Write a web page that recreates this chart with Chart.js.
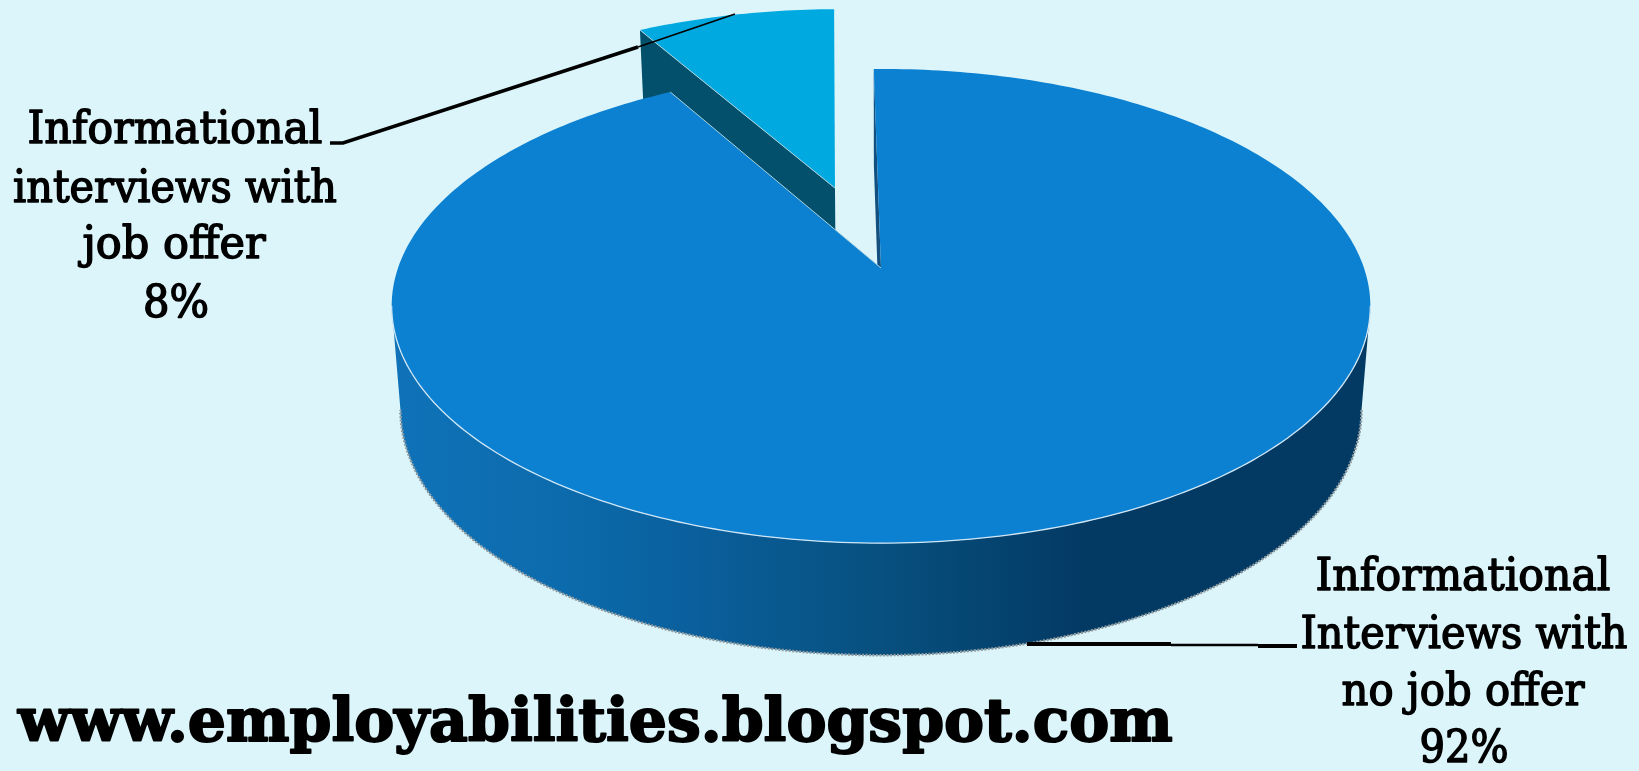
<!DOCTYPE html>
<html>
<head>
<meta charset="utf-8">
<title>Informational interviews</title>
<script src="https://cdn.jsdelivr.net/npm/chart.js@4"></script>
<style>
  html, body { margin: 0; padding: 0; background: #dbf5fa; overflow: hidden; }
  canvas { display: block; }
</style>
</head>
<body>
<canvas id="myChart" width="1639" height="771"></canvas>
<script>
// Chart values
const categories = ['Informational Interviews with no job offer', 'Informational interviews with job offer'];
const shares = [92, 8];
const sliceColors = ['#0c80d1', '#00a9e0'];
const siteUrl = 'www.employabilities.blogspot.com';

// Perspective used to tip the flat pie over and give it some depth
const view = { cx: 881, cy: 268, rx: 483, ry: 231, tilt: 0.1604, shrinkX: 0.982, shrinkY: 1.034, depth: 102.7, explode: [0, 0.38] };

// Text lines: centre x, baseline y and the width each line is fitted to
const labelBlocks = [
  { index: 1, size: 44, lines: [
    { text: 'Informational', x: 175, y: 143, width: 295 },
    { text: 'interviews with', x: 175, y: 202, width: 324 },
    { text: 'job offer', x: 174, y: 258, width: 183 },
    { text: 'value', x: 176, y: 317, width: 66 }
  ] },
  { index: 0, size: 44, lines: [
    { text: 'Informational', x: 1463, y: 590, width: 295 },
    { text: 'Interviews with', x: 1464, y: 648, width: 327 },
    { text: 'no job offer', x: 1463, y: 705, width: 243 },
    { text: 'value', x: 1464, y: 762, width: 89 }
  ] }
];

// Leader lines from the labels to the slices
const leaders = [
  { width: 3.5, points: [[330, 143], [343, 143], [638, 47]] },
  { width: 1.6, points: [[638, 47], [735, 14]] },
  { width: 4, points: [[1027, 644], [1171, 644]] },
  { width: 2.5, points: [[1171, 645], [1258, 645]] },
  { width: 4, points: [[1258, 646], [1297, 646]] }
];

// Maps a point of the unit circle to the page, level 0 = top face, level 1 = bottom rim
function project(u, v, level) {
  const w = 1 - view.tilt * v;
  let x = view.cx + view.rx * u / w;
  let y = view.cy + view.ry * v / w;
  if (level) {
    x = view.cx + (x - view.cx) * view.shrinkX;
    y = view.cy + (y - view.cy) * view.shrinkY + view.depth;
  }
  return [x, y];
}

function rimPoints(start, end, level, shift) {
  const pts = [];
  const steps = Math.ceil(Math.abs(end - start) / (Math.PI / 180));
  for (let i = 0; i <= steps; i++) {
    const a = steps ? start + (end - start) * i / steps : start;
    pts.push(project(Math.cos(a) + shift[0], Math.sin(a) + shift[1], level));
  }
  return pts;
}

function tracePath(ctx, pts, close) {
  ctx.beginPath();
  pts.forEach((p, i) => i ? ctx.lineTo(p[0], p[1]) : ctx.moveTo(p[0], p[1]));
  if (close) ctx.closePath();
}

function shiftFor(arc, i) {
  const mid = (arc.startAngle + arc.endAngle) / 2;
  return [Math.cos(mid) * view.explode[i], Math.sin(mid) * view.explode[i]];
}

// Draws the cut face running from the slice centre out to the rim at the given angle
function radialFace(ctx, angle, shift, color) {
  const u = Math.cos(angle) + shift[0];
  const v = Math.sin(angle) + shift[1];
  tracePath(ctx, [
    project(shift[0], shift[1], 0),
    project(u, v, 0),
    project(u, v, 1),
    project(shift[0], shift[1], 1)
  ], true);
  ctx.fillStyle = color;
  ctx.fill();
}

const pie3d = {
  id: 'pie3d',
  beforeDatasetsDraw(chart) {
    const ctx = chart.ctx;
    const [big, small] = chart.getDatasetMeta(0).data;
    const smallShift = shiftFor(small, 1);
    const noShift = [0, 0];
    ctx.save();
    ctx.lineJoin = 'round';

    // exploded slice, behind the large one
    radialFace(ctx, small.startAngle, smallShift, '#02506b');
    tracePath(ctx, [project(smallShift[0], smallShift[1], 0)].concat(rimPoints(small.startAngle, small.endAngle, 0, smallShift)), true);
    ctx.fillStyle = small.options.backgroundColor;
    ctx.fill();
    tracePath(ctx, [project(smallShift[0], smallShift[1], 0), rimPoints(small.startAngle, small.startAngle, 0, smallShift)[0]], false);
    ctx.strokeStyle = '#a9d3de';
    ctx.lineWidth = 1;
    ctx.stroke();

    // thin sliver of the large slice's cut face in the notch
    radialFace(ctx, big.startAngle, noShift, '#14507f');

    // front wall of the large slice
    const sideAngle = Math.asin(view.tilt);
    const topRim = rimPoints(sideAngle, Math.PI - sideAngle, 0, noShift);
    const lowRim = rimPoints(sideAngle, Math.PI - sideAngle, 1, noShift);
    const wall = ctx.createLinearGradient(395, 0, 1365, 0);
    wall.addColorStop(0, '#0f72b8');
    wall.addColorStop(0.17, '#0c6bac');
    wall.addColorStop(0.31, '#0a5f9c');
    wall.addColorStop(0.5, '#07507f');
    wall.addColorStop(0.71, '#033a64');
    wall.addColorStop(1, '#033a64');
    tracePath(ctx, topRim.concat(lowRim.slice().reverse()), true);
    ctx.fillStyle = wall;
    ctx.fill();
    tracePath(ctx, lowRim, false);
    ctx.strokeStyle = '#8f9a9e';
    ctx.lineWidth = 2.5;
    ctx.setLineDash([2, 1.5]);
    ctx.stroke();
    ctx.setLineDash([]);

    // top face of the large slice
    tracePath(ctx, [project(0, 0, 0)].concat(rimPoints(big.startAngle, big.endAngle, 0, noShift)), true);
    ctx.fillStyle = big.options.backgroundColor;
    ctx.fill();
    tracePath(ctx, topRim, false);
    ctx.strokeStyle = '#cfe6f5';
    ctx.lineWidth = 1.3;
    ctx.stroke();
    tracePath(ctx, [project(0, 0, 0), rimPoints(big.endAngle, big.endAngle, 0, noShift)[0]], false);
    ctx.strokeStyle = '#a9d3de';
    ctx.lineWidth = 1;
    ctx.stroke();

    ctx.restore();
    return false;
  },
  afterDraw(chart) {
    const ctx = chart.ctx;
    ctx.save();
    ctx.strokeStyle = '#000';
    leaders.forEach(l => {
      tracePath(ctx, l.points, false);
      ctx.lineWidth = l.width;
      ctx.stroke();
    });

    // the stroke gives the serif type its heavier weight
    ctx.fillStyle = '#000';
    ctx.lineJoin = 'round';
    ctx.textAlign = 'center';
    ctx.textBaseline = 'alphabetic';
    ctx.lineWidth = 1.5;
    labelBlocks.forEach(block => {
      ctx.font = block.size + 'px "DejaVu Serif"';
      block.lines.forEach(line => {
        const text = line.text === 'value' ? shares[block.index] + '%' : line.text;
        ctx.fillText(text, line.x, line.y, line.width);
        ctx.strokeText(text, line.x, line.y, line.width);
      });
    });

    ctx.font = 'bold 60px "DejaVu Serif"';
    ctx.textAlign = 'left';
    ctx.lineWidth = 2;
    ctx.fillText(siteUrl, 18, 741, 1157);
    ctx.strokeText(siteUrl, 18, 741, 1157);
    ctx.restore();
  }
};

new Chart(document.getElementById('myChart').getContext('2d'), {
  type: 'pie',
  data: {
    labels: categories,
    datasets: [{ data: shares, backgroundColor: sliceColors, borderWidth: 0 }]
  },
  options: {
    responsive: false,
    animation: false,
    rotation: -1,
    plugins: { legend: { display: false }, tooltip: { enabled: false } }
  },
  plugins: [pie3d]
});
</script>
</body>
</html>
